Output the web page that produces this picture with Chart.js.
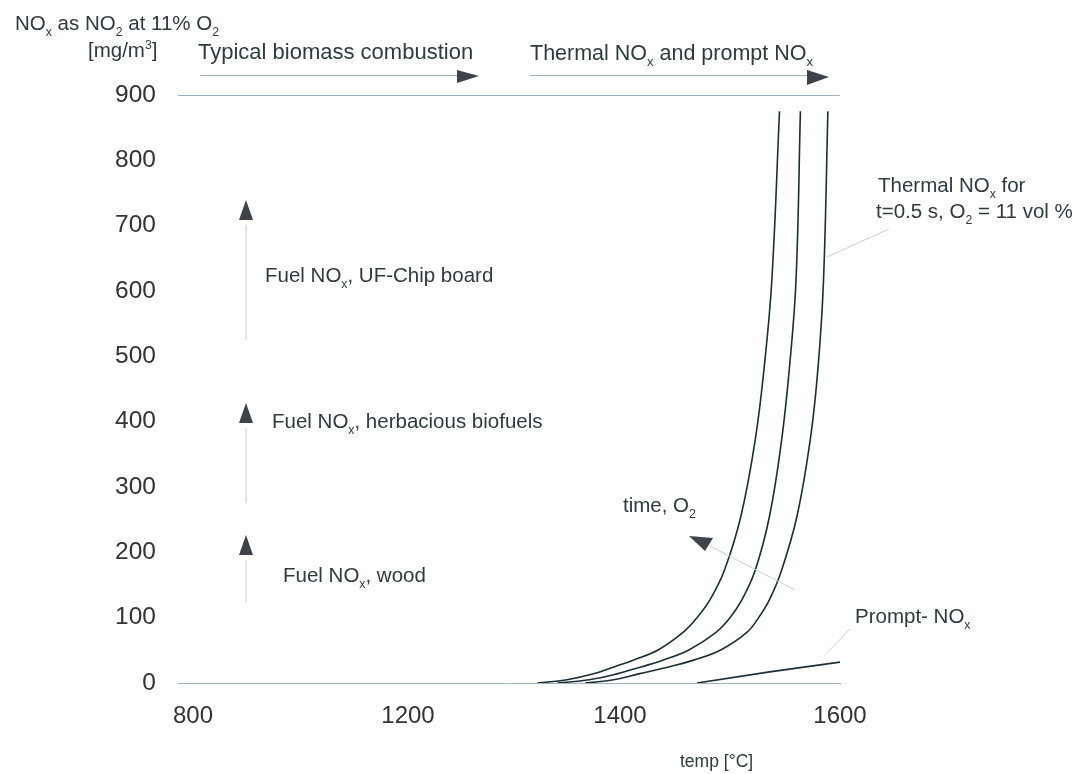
<!DOCTYPE html>
<html>
<head>
<meta charset="utf-8">
<script src="https://cdn.jsdelivr.net/npm/chart.js@4"></script>
<style>
  html, body { margin: 0; padding: 0; background: #fff; }
  canvas { display: block; }
</style>
</head>
<body>
<canvas id="noxChart" width="1087" height="774"></canvas>
<script>
// temperature [°C] / NOx [mg/m3]
const thermalN = [0, 5, 14, 25, 35, 51, 77, 100, 128, 173, 256, 373, 482, 616, 875];
const thermalT1 = [1322, 1350, 1375, 1395, 1412, 1435, 1457, 1470, 1482, 1495, 1510, 1523, 1531, 1538, 1545];
const thermalT2 = [1341, 1371, 1397, 1420, 1439, 1463, 1487, 1500, 1511, 1523, 1536, 1547, 1554, 1560, 1564];
const thermalT3 = [1367, 1394, 1417, 1445, 1467, 1492, 1515, 1526, 1536, 1547, 1561, 1573, 1580, 1585, 1589];
const promptT = [1470, 1536, 1600];
const promptN = [0, 17, 32];

const xTicks = [800, 1200, 1400, 1600];
const yTicks = [0, 100, 200, 300, 400, 500, 600, 700, 800, 900];

// the temperature axis is not uniform in the original (800-1200 squeezed)
const breakValues = [772, 1200, 1400, 1600];
const breakDecimals = [0, 0.3474, 0.6677, 1];

const FONT = '"Liberation Sans", Arial, sans-serif';
const TEXT = '#2f3a40';
const LINE = '#1c2e37';
const FAINT = '#c3d0d9';
const NOTE = 20.5;

function toDecimal(v) {
  for (let i = 1; i < breakValues.length; i++) {
    if (v <= breakValues[i] || i === breakValues.length - 1) {
      const a = breakValues[i - 1], b = breakValues[i];
      return breakDecimals[i - 1] + (v - a) / (b - a) * (breakDecimals[i] - breakDecimals[i - 1]);
    }
  }
}
function fromDecimal(d) {
  for (let i = 1; i < breakDecimals.length; i++) {
    if (d <= breakDecimals[i] || i === breakDecimals.length - 1) {
      const a = breakDecimals[i - 1], b = breakDecimals[i];
      return breakValues[i - 1] + (d - a) / (b - a) * (breakValues[i] - breakValues[i - 1]);
    }
  }
}

class BrokenScale extends Chart.LinearScale {
  getPixelForValue(value) {
    return this.getPixelForDecimal(toDecimal(value));
  }
  getValueForPixel(pixel) {
    return fromDecimal(this.getDecimalForPixel(pixel));
  }
}
BrokenScale.id = 'broken';
BrokenScale.defaults = Chart.LinearScale.defaults;
Chart.register(BrokenScale);

const pts = (xs, ys) => xs.map((x, i) => ({ x: x, y: ys[i] }));

function rich(ctx, x, y, parts, size) {
  let cx = x;
  parts.forEach(p => {
    const small = p[1] === 'sub' || p[1] === 'sup';
    const fs = small ? size * 0.6 : size;
    ctx.font = fs + 'px ' + FONT;
    const dy = p[1] === 'sub' ? size * 0.3 : p[1] === 'sup' ? -size * 0.4 : 0;
    ctx.fillText(p[0], cx, y + dy);
    cx += ctx.measureText(p[0]).width;
  });
}

function tri(ctx, a, b, c) {
  ctx.beginPath();
  ctx.moveTo(a[0], a[1]);
  ctx.lineTo(b[0], b[1]);
  ctx.lineTo(c[0], c[1]);
  ctx.closePath();
  ctx.fill();
}

function seg(ctx, x1, y1, x2, y2, color) {
  ctx.strokeStyle = color;
  ctx.lineWidth = 1;
  ctx.beginPath();
  ctx.moveTo(x1, y1);
  ctx.lineTo(x2, y2);
  ctx.stroke();
}

const notes = {
  id: 'notes',
  afterDraw(chart) {
    const ctx = chart.ctx;
    ctx.save();
    ctx.textBaseline = 'alphabetic';
    ctx.fillStyle = TEXT;

    // axis titles
    rich(ctx, 15, 30, [['NO'], ['x', 'sub'], [' as NO'], ['2', 'sub'], [' at 11% O'], ['2', 'sub']], NOTE);
    rich(ctx, 88, 57, [['[mg/m'], ['3', 'sup'], [']']], NOTE);
    rich(ctx, 680, 767, [['temp [°C]']], 17.5);

    // top arrows
    rich(ctx, 198, 59, [['Typical biomass combustion']], 22);
    rich(ctx, 530, 60, [['Thermal NO'], ['x', 'sub'], [' and prompt NO'], ['x', 'sub']], 21.5);
    seg(ctx, 200, 75.5, 460, 75.5, '#9fb4c3');
    seg(ctx, 530, 75.5, 808, 75.5, '#9fb4c3');
    ctx.fillStyle = '#3d4348';
    tri(ctx, [457, 70], [479, 76], [457, 83]);
    tri(ctx, [807, 70], [829, 77], [807, 85]);

    // fuel NOx markers
    seg(ctx, 246, 225, 246, 340, FAINT);
    seg(ctx, 246, 428, 246, 503, FAINT);
    seg(ctx, 246, 560, 246, 602, FAINT);
    ctx.fillStyle = '#3d4348';
    tri(ctx, [246, 200], [253, 220], [239, 220]);
    tri(ctx, [246, 403], [253, 423], [239, 423]);
    tri(ctx, [246, 535], [253, 555], [239, 555]);

    ctx.fillStyle = TEXT;
    rich(ctx, 265, 282, [['Fuel NO'], ['x', 'sub'], [', UF-Chip board']], NOTE);
    rich(ctx, 272, 428, [['Fuel NO'], ['x', 'sub'], [', herbacious biofuels']], NOTE);
    rich(ctx, 283, 582, [['Fuel NO'], ['x', 'sub'], [', wood']], NOTE);

    // thermal / prompt notes
    rich(ctx, 878, 192, [['Thermal NO'], ['x', 'sub'], [' for']], NOTE);
    rich(ctx, 876, 218, [['t=0.5 s, O'], ['2', 'sub'], [' = 11 vol %']], NOTE);
    seg(ctx, 827, 257, 889, 229, FAINT);
    rich(ctx, 623, 512, [['time, O'], ['2', 'sub']], NOTE);
    seg(ctx, 710, 546, 795, 590, FAINT);
    ctx.fillStyle = '#3d4348';
    tri(ctx, [689, 536], [713, 538], [705, 551]);
    ctx.fillStyle = TEXT;
    rich(ctx, 855, 623, [['Prompt- NO'], ['x', 'sub']], NOTE);
    seg(ctx, 826, 654, 850, 629, FAINT);
    ctx.restore();
  }
};

const curveStyle = {
  borderColor: LINE,
  borderWidth: 1.6,
  pointRadius: 0,
  fill: false,
  tension: 0.4,
  showLine: true
};

new Chart(document.getElementById('noxChart').getContext('2d'), {
  type: 'scatter',
  data: {
    datasets: [
      Object.assign({ label: 'Thermal NOx 1', data: pts(thermalT1, thermalN) }, curveStyle),
      Object.assign({ label: 'Thermal NOx 2', data: pts(thermalT2, thermalN) }, curveStyle),
      Object.assign({ label: 'Thermal NOx 3', data: pts(thermalT3, thermalN) }, curveStyle),
      Object.assign({ label: 'Prompt NOx', data: pts(promptT, promptN) }, curveStyle, { tension: 0 })
    ]
  },
  options: {
    responsive: false,
    animation: false,
    layout: { padding: { top: 95, left: 0, right: 247, bottom: 0 } },
    plugins: {
      legend: { display: false },
      title: { display: false },
      tooltip: { enabled: false }
    },
    scales: {
      x: {
        type: 'broken',
        min: 772,
        max: 1600,
        afterBuildTicks: s => { s.ticks = xTicks.map(v => ({ value: v })); },
        afterFit: s => { s.height = 91; },
        grid: { color: 'transparent', drawTicks: false },
        border: { display: true, color: '#9fb4c3', width: 1 },
        ticks: {
          padding: 19,
          color: '#333',
          font: { family: FONT, size: 24 },
          maxRotation: 0,
          callback: v => String(v)
        }
      },
      y: {
        min: 0,
        max: 900,
        afterBuildTicks: s => { s.ticks = yTicks.map(v => ({ value: v })); },
        afterFit: s => { s.width = 178; },
        grid: {
          drawTicks: false,
          color: c => (c.tick && c.tick.value === 900 ? '#9fb4c3' : 'transparent')
        },
        border: { display: false },
        ticks: { padding: 22, color: '#333', font: { family: FONT, size: 24.5 }, callback: v => String(v) }
      }
    }
  },
  plugins: [notes]
});
</script>
</body>
</html>
